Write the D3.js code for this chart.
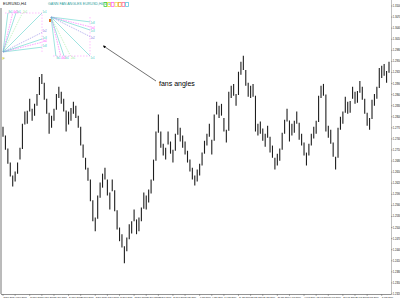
<!DOCTYPE html>
<html>
<head>
<meta charset="utf-8">
<title>EURUSD H4</title>
<script src="https://d3js.org/d3.v7.min.js"></script>
<style>
  body { margin: 0; background: #fff; }
  svg { display: block; background: #fff; }
  .bar { stroke: #1e1e1e; stroke-width: 1.1; }
  .tiny { font-family: "Liberation Sans Narrow", "Arial Narrow", sans-serif; font-size: 2.6px; fill: #111; }
</style>
</head>
<body>
<div id="chart"></div>
<script>
// bar highs / lows (EURUSD, H4)
var highs = [1.2773,1.2749,1.2714,1.2676,1.2641,1.2652,1.2676,1.2716,1.2781,1.2814,
  1.2816,1.2849,1.2822,1.2835,1.2862,1.2908,1.2916,1.2892,1.2849,1.2811,
  1.2803,1.2822,1.2862,1.2881,1.2868,1.2849,1.2817,1.2814,1.2824,1.2841,
  1.2830,1.2803,1.2773,1.2725,1.2689,1.2662,1.2630,1.2574,1.2527,1.2587,
  1.2622,1.2646,1.2662,1.2630,1.2595,1.2630,1.2601,1.2547,1.2500,1.2482,
  1.2449,1.2473,1.2509,1.2517,1.2549,1.2522,1.2527,1.2554,1.2595,1.2587,
  1.2603,1.2630,1.2684,1.2760,1.2806,1.2760,1.2727,1.2716,1.2760,1.2733,
  1.2711,1.2754,1.2797,1.2770,1.2749,1.2733,1.2708,1.2684,1.2662,1.2641,
  1.2657,1.2673,1.2703,1.2735,1.2754,1.2781,1.2738,1.2806,1.2841,1.2830,
  1.2835,1.2797,1.2765,1.2868,1.2884,1.2889,1.2862,1.2922,1.2949,1.2965,
  1.2927,1.2892,1.2884,1.2889,1.2857,1.2781,1.2787,1.2768,1.2754,1.2776,
  1.2746,1.2722,1.2689,1.2700,1.2714,1.2757,1.2792,1.2822,1.2790,1.2781,
  1.2789,1.2814,1.2784,1.2754,1.2730,1.2703,1.2727,1.2754,1.2773,1.2789,
  1.2857,1.2884,1.2889,1.2860,1.2776,1.2765,1.2730,1.2692,1.2770,1.2800,
  1.2814,1.2854,1.2841,1.2843,1.2881,1.2868,1.2870,1.2897,1.2881,1.2849,
  1.2811,1.2797,1.2846,1.2862,1.2881,1.2932,1.2938,1.2943,1.2924,1.2949];
var lows = [1.2746,1.2711,1.2673,1.2638,1.2611,1.2625,1.2646,1.2684,1.2713,1.2779,
  1.2781,1.2814,1.2789,1.2803,1.2830,1.2859,1.2889,1.2846,1.2808,1.2754,
  1.2770,1.2789,1.2819,1.2851,1.2835,1.2814,1.2760,1.2779,1.2789,1.2808,
  1.2797,1.2770,1.2722,1.2689,1.2657,1.2627,1.2571,1.2517,1.2490,1.2524,
  1.2581,1.2608,1.2630,1.2587,1.2549,1.2598,1.2544,1.2495,1.2463,1.2446,
  1.2403,1.2436,1.2468,1.2484,1.2517,1.2482,1.2490,1.2517,1.2551,1.2549,
  1.2568,1.2592,1.2627,1.2681,1.2757,1.2716,1.2695,1.2684,1.2725,1.2700,
  1.2676,1.2708,1.2751,1.2733,1.2716,1.2698,1.2676,1.2652,1.2630,1.2614,
  1.2625,1.2641,1.2668,1.2700,1.2722,1.2746,1.2698,1.2735,1.2806,1.2797,
  1.2803,1.2760,1.2730,1.2762,1.2851,1.2857,1.2830,1.2859,1.2914,1.2927,
  1.2884,1.2854,1.2851,1.2854,1.2760,1.2749,1.2754,1.2735,1.2719,1.2743,
  1.2703,1.2689,1.2657,1.2668,1.2681,1.2711,1.2754,1.2787,1.2733,1.2749,
  1.2757,1.2781,1.2738,1.2722,1.2695,1.2668,1.2695,1.2722,1.2741,1.2754,
  1.2786,1.2851,1.2857,1.2760,1.2743,1.2727,1.2692,1.2657,1.2689,1.2765,
  1.2781,1.2811,1.2808,1.2811,1.2849,1.2835,1.2838,1.2865,1.2846,1.2808,
  1.2776,1.2765,1.2794,1.2830,1.2849,1.2878,1.2905,1.2911,1.2892,1.2919];

var priceTicks = [1.2320,1.2350,1.2380,1.2410,1.2440,1.2470,1.2500,1.2530,1.2560,
  1.2590,1.2620,1.2650,1.2680,1.2710,1.2740,1.2770,1.2800,1.2830,1.2860,
  1.2890,1.2920,1.2950,1.2980,1.3010,1.3040,1.3070,1.3100];

var dateLabels = ["3 Nov 2008","6 Nov 2008","11 Nov 2008","14 Nov 2008","19 Nov 2008",
  "24 Nov 2008","27 Nov 2008","2 Dec 2008","5 Dec 2008","10 Dec 2008","15 Dec 2008",
  "18 Dec 2008","23 Dec 2008","29 Dec 2008","1 Jan 2009","6 Jan 2009","9 Jan 2009",
  "14 Jan 2009","19 Jan 2009","22 Jan 2009","27 Jan 2009","30 Jan 2009","4 Feb 2009",
  "9 Feb 2009","12 Feb 2009","17 Feb 2009","20 Feb 2009","25 Feb 2009","2 Mar 2009","5 Mar 2009"];
var dateIdx = [0,5,11,16,21,27,32,38,43,48,54,59,64,70,75,81,86,91,97,102,107,113,118,124,129,134,140,145,150,156];

// fan angle ratios and their labels
var fanRatios = [0.125, 0.25, 0.333, 0.5, 1, 2, 3, 4, 8];
var fanNames = ["1x8","1x4","1x3","1x2","1x1","2x1","3x1","4x1","8x1"];
var fanColors = ["#40c8c0","#ff40ff","#40c8c0","#7a70e0","#40c8c0","#90e890","#40c8c0","#ff40ff","#40c8c0"];
var legendColors = ["#40d040","#e8e040","#ff60ff","#f0e060","#f0a040","#ff70a0","#60c8e0"];

var W = 400, H = 300;
var svg = d3.select("#chart").append("svg").attr("width", W).attr("height", H);

var x = d3.scaleLinear().domain([0, highs.length - 1]).range([3, 389]);
var y = d3.scaleLinear().domain([1.2320, 1.3100]).range([294, 6]);

// frame
svg.append("line").attr("x1", 1).attr("x2", 1).attr("y1", 8).attr("y2", 294).attr("stroke", "#777").attr("stroke-width", 1);
svg.append("line").attr("x1", 1).attr("x2", 391).attr("y1", 294.5).attr("y2", 294.5).attr("stroke", "#777").attr("stroke-width", 0.8);
svg.append("line").attr("x1", 391.5).attr("x2", 391.5).attr("y1", 0).attr("y2", 295).attr("stroke", "#999").attr("stroke-width", 0.6);

// bars
svg.selectAll(".bar").data(highs).enter().append("line")
  .attr("class", "bar")
  .attr("x1", function(d, i) { return x(i); })
  .attr("x2", function(d, i) { return x(i); })
  .attr("y1", function(d) { return y(d); })
  .attr("y2", function(d, i) { return y(lows[i]); });

// price axis
var pa = svg.append("g");
pa.selectAll("line").data(priceTicks).enter().append("line")
  .attr("x1", 391).attr("x2", 392.5)
  .attr("y1", function(d) { return y(d); }).attr("y2", function(d) { return y(d); })
  .attr("stroke", "#666").attr("stroke-width", 0.5);
pa.selectAll("text").data(priceTicks).enter().append("text")
  .attr("class", "tiny")
  .attr("x", 392.8).attr("y", function(d) { return y(d) + 1; })
  .text(function(d) { return d.toFixed(4); });

// date axis
var da = svg.append("g");
da.selectAll("line").data(dateIdx).enter().append("line")
  .attr("x1", function(d) { return x(d); }).attr("x2", function(d) { return x(d); })
  .attr("y1", 294).attr("y2", 296).attr("stroke", "#666").attr("stroke-width", 0.5);
da.selectAll("text").data(dateLabels).enter().append("text")
  .attr("class", "tiny").style("font-size", "2.2px")
  .attr("x", function(d, i) { return x(dateIdx[i]) + 0.4; }).attr("y", 298.4)
  .text(function(d) { return d; });

// header
svg.append("text").attr("class", "tiny").attr("x", 3).attr("y", 4.5).style("font-size", "4px").text("EURUSD,H4");
svg.append("text").attr("x", 48).attr("y", 5).style("font-family", "'Liberation Sans Narrow', 'Arial Narrow', sans-serif")
  .style("font-size", "3.6px").attr("fill", "#2a9d9a")
  .text("GANN FAN ANGLES  EURUSD,H4 1x1");
var lg = svg.append("g");
lg.selectAll("rect").data(legendColors).enter().append("rect")
  .attr("x", function(d, i) { return 104 + i * 3.6; }).attr("y", 2.5)
  .attr("width", 2.8).attr("height", 4)
  .attr("fill", "none").attr("stroke", function(d) { return d; }).attr("stroke-width", 0.8);

// fans
function drawFan(ox, oy, size, dirY) {
  var g = svg.append("g");
  fanRatios.forEach(function(r, i) {
    // end point on the box edge
    var dx = size, dy = size * r;
    if (dy > size) { dx = size / r; dy = size; }
    var ex = ox + dx, ey = oy + dirY * dy;
    g.append("line").attr("x1", ox).attr("y1", oy).attr("x2", ex).attr("y2", ey)
      .attr("stroke", fanColors[i]).attr("stroke-width", 0.5)
      .attr("stroke-dasharray", i % 2 ? "1.5,1" : null);
    g.append("text").attr("x", ex + 0.5).attr("y", ey + (dirY < 0 ? -0.5 : 2.5))
      .style("font-family", "'Liberation Sans Narrow', 'Arial Narrow', sans-serif").style("font-size", "2.6px")
      .attr("fill", fanColors[i]).text(fanNames[i]);
  });
  // box edges
  g.append("line").attr("x1", ox + 2).attr("y1", oy + dirY * size).attr("x2", ox + size).attr("y2", oy + dirY * size)
    .attr("stroke", "#ff60ff").attr("stroke-width", 0.4).attr("stroke-dasharray", "1.5,1.5");
  g.append("line").attr("x1", ox + size).attr("y1", oy).attr("x2", ox + size).attr("y2", oy + dirY * size)
    .attr("stroke", "#ff60ff").attr("stroke-width", 0.4).attr("stroke-dasharray", "1.5,1.5");
}
drawFan(3, 52, 39, -1);
drawFan(51, 17, 39, 1);
svg.append("rect").attr("x", 49).attr("y", 19).attr("width", 2).attr("height", 3).attr("fill", "#e07020");
svg.append("text").attr("x", 2.5).attr("y", 60).style("font-family", "Liberation Sans, Arial, sans-serif")
  .style("font-size", "4px").attr("fill", "#c8c800").text("F");

// annotation
var defs = svg.append("defs");
defs.append("marker").attr("id", "ah").attr("viewBox", "0 0 10 10").attr("refX", 1).attr("refY", 5)
  .attr("markerWidth", 5).attr("markerHeight", 5).attr("orient", "auto-start-reverse")
  .append("path").attr("d", "M0,0 L10,5 L0,10 z").attr("fill", "#000");
svg.append("line").attr("x1", 156).attr("y1", 81).attr("x2", 105).attr("y2", 47)
  .attr("stroke", "#111").attr("stroke-width", 0.6).attr("marker-end", "url(#ah)");
svg.append("text").attr("x", 159).attr("y", 86)
  .style("font-family", "'Liberation Sans Narrow', 'Arial Narrow', sans-serif").style("font-size", "7px")
  .attr("fill", "#000").text("fans angles");
</script>
</body>
</html>
